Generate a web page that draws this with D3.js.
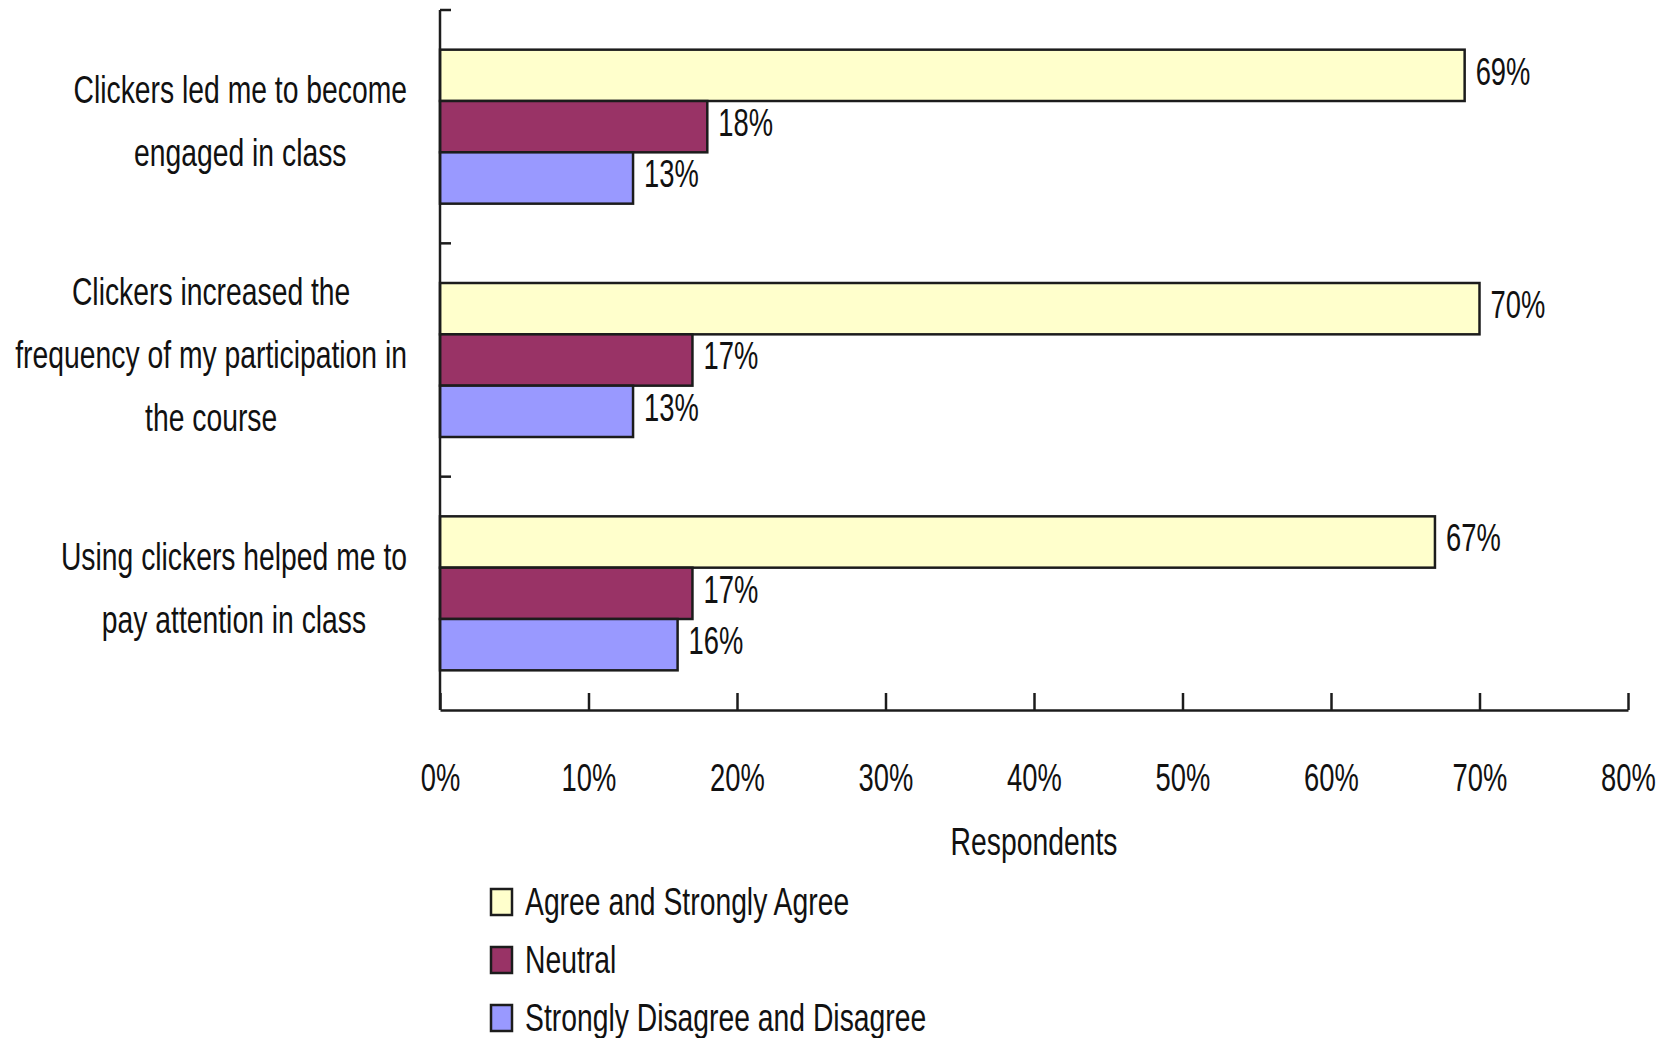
<!DOCTYPE html>
<html>
<head>
<meta charset="utf-8">
<script src="https://cdn.jsdelivr.net/npm/d3@7"></script>
<style>
  body { margin: 0; background: #fff; }
  text { font-family: "Liberation Sans", Arial, sans-serif; fill: #111; }
</style>
</head>
<body>
<script>
const width = 1666;
const height = 1038;

// data
const categories = [
    "Clickers led me to become engaged in class",
    "Clickers increased the frequency of my participation in the course",
    "Using clickers helped me to pay attention in class"
];
const category_lines = [
    ["Clickers led me to become", "engaged in class"],
    ["Clickers increased the", "frequency of my participation in", "the course"],
    ["Using clickers helped me to", "pay attention in class"]
];
const series_names = ["Agree and Strongly Agree", "Neutral", "Strongly Disagree and Disagree"];
const series_colors = ["#ffffcc", "#993366", "#9999ff"];
const agree_values = [69, 70, 67];
const neutral_values = [18, 17, 17];
const disagree_values = [13, 13, 16];
const x_ticks = [0, 10, 20, 30, 40, 50, 60, 70, 80];

const series_values = [agree_values, neutral_values, disagree_values];
const font_size = 38;
// the original text is squeezed sideways
const squeeze_num = "scale(0.72,1)";
const word_scale = 0.745;
const squeeze_word = "scale(" + word_scale + ",1)";

let svg = d3.select("body").append("svg").attr("width", width).attr("height", height);

// scales
let x = d3.scaleLinear().domain([0, 80]).range([440, 1628]);
let y0 = d3.scaleBand().domain(categories).range([10, 710]).paddingInner(0.34).paddingOuter(0.17);
let y1 = d3.scaleBand().domain(series_names).range([0, y0.bandwidth()]);

// bars
let groups = svg.append("g").selectAll("g")
    .data(categories)
    .enter()
    .append("g")
    .attr("transform", d => "translate(0," + y0(d) + ")");

groups.selectAll("rect")
    .data((d, i) => series_names.map((s, j) => ({series: s, j: j, value: series_values[j][i]})))
    .enter()
    .append("rect")
    .attr("x", x(0))
    .attr("y", d => y1(d.series))
    .attr("width", d => x(d.value) - x(0))
    .attr("height", y1.bandwidth())
    .attr("fill", d => series_colors[d.j])
    .attr("stroke", "#1c1c1c")
    .attr("stroke-width", 2.5);

// value labels
groups.selectAll("g.val")
    .data((d, i) => series_names.map((s, j) => ({series: s, value: series_values[j][i]})))
    .enter()
    .append("g")
    .attr("class", "val")
    .attr("transform", d => "translate(" + (x(d.value) + 11) + "," + (y1(d.series) + y1.bandwidth() / 2 - 4) + ")")
    .append("text")
    .attr("transform", squeeze_num)
    .attr("dy", "0.35em")
    .attr("font-size", font_size)
    .text(d => d.value + "%");

// x axis, ticks pointing up
let xAxis = svg.append("g")
    .attr("transform", "translate(0,710)")
    .call(d3.axisBottom(x).tickValues(x_ticks).tickSizeInner(-17).tickSizeOuter(0).tickFormat(d => d + "%"));
xAxis.select(".domain").attr("stroke", "#1c1c1c").attr("stroke-width", 2.5);
xAxis.selectAll(".tick line").attr("stroke", "#1c1c1c").attr("stroke-width", 2.5);
xAxis.selectAll(".tick text")
    .attr("y", 68)
    .attr("dy", "0.35em")
    .attr("font-size", font_size)
    .attr("font-family", null)
    .attr("fill", "#111")
    .attr("transform", squeeze_num);

// y axis with ticks at the band boundaries
let boundaries = categories.map(c => y0(c) - y0.step() * y0.paddingInner() / 2);
svg.append("line")
    .attr("x1", x(0)).attr("x2", x(0))
    .attr("y1", y0.range()[0]).attr("y2", y0.range()[1])
    .attr("stroke", "#1c1c1c").attr("stroke-width", 2.5);
svg.append("g").selectAll("line")
    .data(boundaries)
    .enter()
    .append("line")
    .attr("x1", x(0)).attr("x2", x(0) + 11)
    .attr("y1", d => d).attr("y2", d => d)
    .attr("stroke", "#1c1c1c").attr("stroke-width", 2.5);

// category labels, centred blocks whose right edge sits next to the axis
const line_gap = 63;
categories.forEach((c, i) => {
    let lines = category_lines[i];
    let g = svg.append("g");
    let texts = g.selectAll("text")
        .data(lines)
        .enter()
        .append("text")
        .attr("transform", squeeze_word)
        .attr("text-anchor", "middle")
        .attr("font-size", font_size)
        .attr("y", (d, k) => (k - (lines.length - 1) / 2) * line_gap)
        .attr("dy", "0.35em")
        .text(d => d);
    let w = d3.max(texts.nodes(), n => n.getComputedTextLength()) * word_scale;
    g.attr("transform", "translate(" + (407 - w / 2) + "," + (y0(c) + y0.bandwidth() / 2 - 5) + ")");
});

// axis title
svg.append("g")
    .attr("transform", "translate(" + ((x(0) + x(80)) / 2) + ",842)")
    .append("text")
    .attr("transform", squeeze_word)
    .attr("text-anchor", "middle")
    .attr("dy", "0.35em")
    .attr("font-size", font_size)
    .text("Respondents");

// legend
let legend = svg.append("g").selectAll("g")
    .data(series_names)
    .enter()
    .append("g")
    .attr("transform", (d, i) => "translate(491," + (902 + i * 58) + ")");
legend.append("rect")
    .attr("x", 0).attr("y", -13)
    .attr("width", 21).attr("height", 26)
    .attr("fill", (d, i) => series_colors[i])
    .attr("stroke", "#1c1c1c").attr("stroke-width", 2.5);
legend.append("g")
    .attr("transform", "translate(34,0)")
    .append("text")
    .attr("transform", squeeze_word)
    .attr("dy", "0.35em")
    .attr("font-size", font_size)
    .text(d => d);
</script>
</body>
</html>
